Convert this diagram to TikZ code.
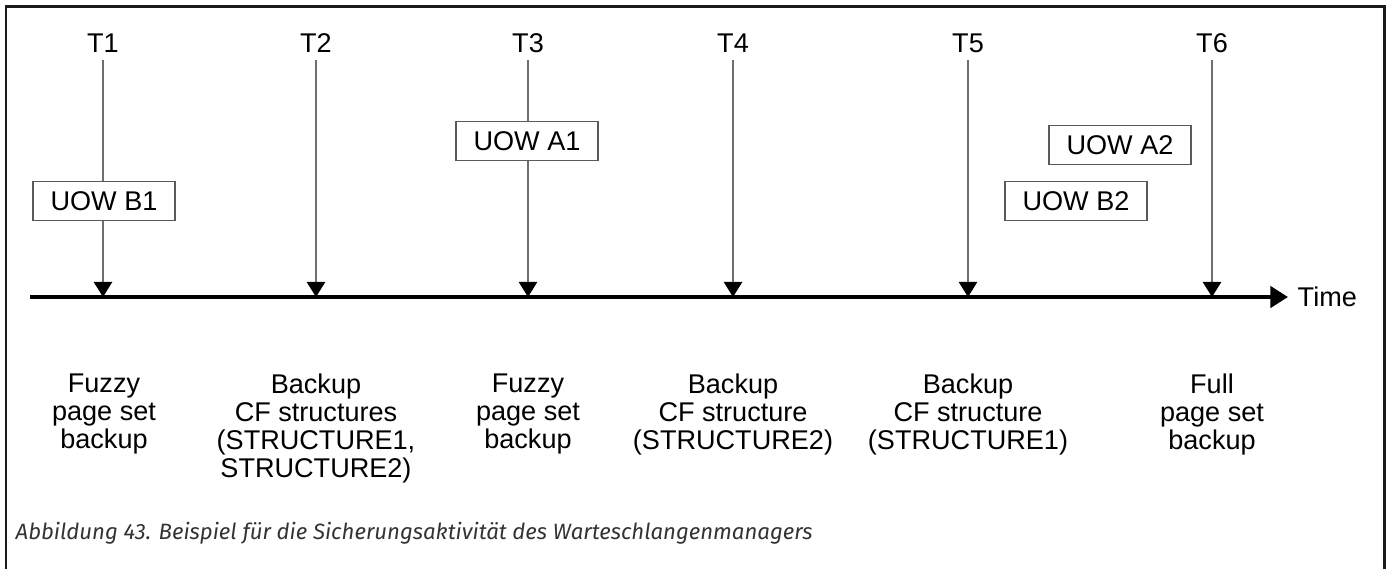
\documentclass[tikz,border=0pt]{standalone}
\usepackage{fontspec}
\setmainfont{Liberation Sans}
\newfontfamily\capfont{Fira Sans}
\usetikzlibrary{arrows.meta}
\definecolor{FrameDark}{HTML}{1A1A1A}
\definecolor{TickGray}{HTML}{6E6E6E}
\definecolor{BoxGray}{HTML}{5A5A5A}
\definecolor{CapText}{HTML}{333333}

\begin{document}
\begin{tikzpicture}[x=0.01cm,y=-0.01cm,
      tlabel/.style={font=\fontsize{7.7}{8}\selectfont,inner sep=2pt},
      desc/.style={anchor=north,align=center,inner sep=0pt,font=\fontsize{7.7}{8}\selectfont},
      tick/.style={-{Triangle[length=4.3pt,width=5.2pt,black]},TickGray,line width=0.55pt},
      axis/.style={-{Triangle[length=5pt,width=6pt]},black,line width=1.1pt},
      uow/.style={draw=BoxGray,fill=white,line width=0.55pt,minimum width=1.42cm,minimum height=0.39cm,inner sep=0pt,font=\fontsize{7.7}{8}\selectfont}]
    \useasboundingbox (0,0) rectangle (1388,569);
    \draw[FrameDark,line width=0.85pt] (6,569) -- (6,6) -- (1384,6) -- (1384,569);
    % time axis
    \coordinate (start) at (30,297);
    \node[tlabel,anchor=west,inner xsep=0.09cm,inner ysep=0pt] (time) at (1288,297) {Time};
    \draw[axis] (start) -- (time);
    % points in time
    \node[tlabel] (t1) at (103,43) {T1};
    \node[tlabel] (t2) at (316,43) {T2};
    \node[tlabel] (t3) at (528,43) {T3};
    \node[tlabel] (t4) at (733,43) {T4};
    \node[tlabel] (t5) at (968,43) {T5};
    \node[tlabel] (t6) at (1212,43) {T6};
    \coordinate (p1) at (103,297);
    \coordinate (p2) at (316,297);
    \coordinate (p3) at (528,297);
    \coordinate (p4) at (733,297);
    \coordinate (p5) at (968,297);
    \coordinate (p6) at (1212,297);
    \draw[tick] (t1) -- (p1);
    \draw[tick] (t2) -- (p2);
    \draw[tick] (t3) -- (p3);
    \draw[tick] (t4) -- (p4);
    \draw[tick] (t5) -- (p5);
    \draw[tick] (t6) -- (p6);
    % units of work
    \node[uow] (b1) at (104,201) {UOW B1};
    \node[uow] (a1) at (527,141) {UOW A1};
    \node[uow] (a2) at (1120,145) {UOW A2};
    \node[uow] (b2) at (1076,201) {UOW B2};
    % what happens
    \node[desc] (d1) at (104,373) {Fuzzy\\page set\\backup};
    \node[desc] (d2) at (316,373) {Backup\\CF structures\\(STRUCTURE1,\\STRUCTURE2)};
    \node[desc] (d3) at (528,373) {Fuzzy\\page set\\backup};
    \node[desc] (d4) at (733,373) {Backup\\CF structure\\(STRUCTURE2)};
    \node[desc] (d5) at (968,373) {Backup\\CF structure\\(STRUCTURE1)};
    \node[desc] (d6) at (1212,373) {Full\\page set\\backup};
    \node[anchor=base west,inner sep=0pt,text=CapText,font=\capfont\itshape\fontsize{6.3}{7}\selectfont] (cap) at (15,539)
      {Abbildung 43. Beispiel für die Sicherungsaktivität des Warteschlangenmanagers};
  \end{tikzpicture}
\end{document}
